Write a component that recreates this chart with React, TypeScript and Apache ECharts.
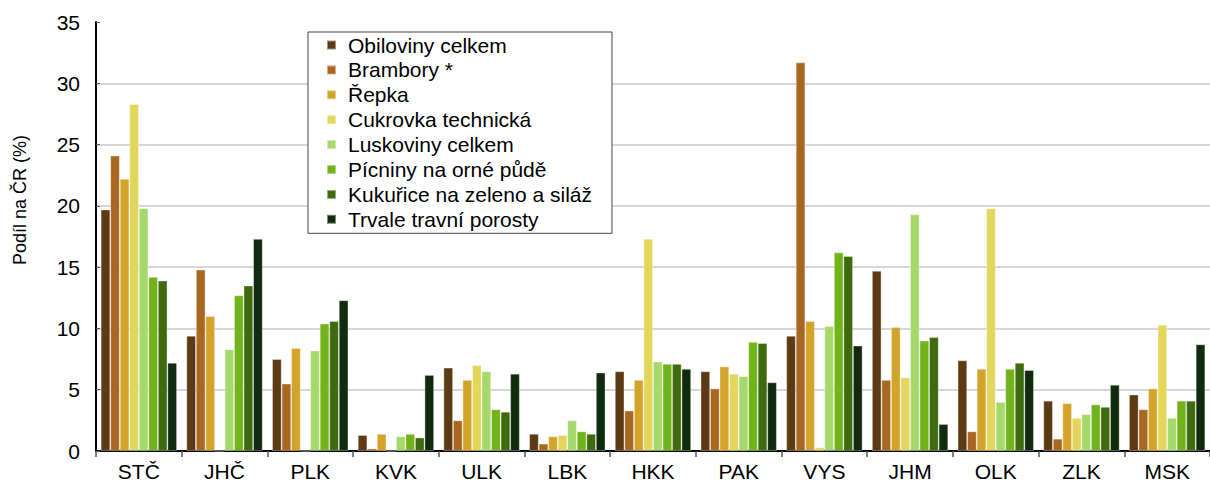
import React, { useEffect, useRef } from "react";
import * as echarts from "echarts";

const categories = ["STČ", "JHČ", "PLK", "KVK", "ULK", "LBK", "HKK", "PAK", "VYS", "JHM", "OLK", "ZLK", "MSK"];
const seriesNames = [
  "Obiloviny celkem",
  "Brambory *",
  "Řepka",
  "Cukrovka technická",
  "Luskoviny celkem",
  "Pícniny na orné půdě",
  "Kukuřice na zeleno a siláž",
  "Trvale travní porosty",
];
const obiloviny = [19.7, 9.4, 7.5, 1.3, 6.8, 1.4, 6.5, 6.5, 9.4, 14.7, 7.4, 4.1, 4.6];
const brambory = [24.1, 14.8, 5.5, 0.2, 2.5, 0.6, 3.3, 5.1, 31.7, 5.8, 1.6, 1.0, 3.4];
const repka = [22.2, 11.0, 8.4, 1.4, 5.8, 1.2, 5.8, 6.9, 10.6, 10.1, 6.7, 3.9, 5.1];
const cukrovka = [28.3, 0, 0, 0, 7.0, 1.3, 17.3, 6.3, 0.3, 6.0, 19.8, 2.7, 10.3];
const luskoviny = [19.8, 8.3, 8.2, 1.2, 6.5, 2.5, 7.3, 6.1, 10.2, 19.3, 4.0, 3.0, 2.7];
const picniny = [14.2, 12.7, 10.4, 1.4, 3.4, 1.6, 7.1, 8.9, 16.2, 9.0, 6.7, 3.8, 4.1];
const kukurice = [13.9, 13.5, 10.6, 1.1, 3.2, 1.4, 7.1, 8.8, 15.9, 9.3, 7.2, 3.6, 4.1];
const ttp = [7.2, 17.3, 12.3, 6.2, 6.3, 6.4, 6.7, 5.6, 8.6, 2.2, 6.6, 5.4, 8.7];
const colors = ["#5B3A14", "#A86822", "#D4A42A", "#E3D65C", "#A6D96B", "#72B31B", "#3D6B0D", "#102B0D"];
const yTicks = { min: 0, max: 35, interval: 5 };

const FONT = "'Liberation Sans', Arial, sans-serif";

export default function App() {
  const ref = useRef<HTMLDivElement>(null);
  useEffect(() => {
    if (!ref.current) return;
    const chart = echarts.init(ref.current, null, { renderer: "svg" });
    const allData = [obiloviny, brambory, repka, cukrovka, luskoviny, picniny, kukurice, ttp];
    chart.setOption({
      animation: false,
      backgroundColor: "#ffffff",
      textStyle: { fontFamily: FONT },
      grid: { left: 96, right: -13, top: 22, bottom: 34, containLabel: false },
      legend: {
        orient: "vertical",
        left: 308,
        top: 32,
        padding: [2, 20, 3, 18],
        itemWidth: 9,
        itemHeight: 9,
        itemGap: 2.9,
        icon: "rect",
        backgroundColor: "#ffffff",
        borderColor: "#444444",
        borderWidth: 1,
        borderRadius: 0,
        z: 10,
        textStyle: { fontSize: 21, color: "#000", fontFamily: FONT, lineHeight: 22, padding: [0, 0, 0, 7] },
        data: seriesNames,
      },
      graphic: [
        {
          type: "text",
          x: 20,
          y: 200,
          rotation: Math.PI / 2,
          style: {
            text: "Podíl na ČR (%)",
            fontSize: 18,
            fontFamily: FONT,
            fill: "#000",
            textAlign: "center",
            textVerticalAlign: "middle",
          },
        },
      ],
      xAxis: {
        type: "category",
        data: categories,
        axisLine: { show: true, lineStyle: { color: "#000", width: 2 } },
        axisTick: { show: true, inside: false, length: 6, lineStyle: { color: "#555", width: 1.5 } },
        axisLabel: { fontSize: 21, color: "#000", margin: 10, fontFamily: FONT },
        splitLine: { show: false },
      },
      yAxis: {
        type: "value",
        min: yTicks.min,
        max: yTicks.max,
        interval: yTicks.interval,
        axisLine: { show: true, lineStyle: { color: "#000", width: 2 } },
        axisTick: { show: true, inside: true, length: 4, lineStyle: { color: "#555" } },
        axisLabel: { fontSize: 21, color: "#000", margin: 16, fontFamily: FONT },
        splitLine: { show: true, showMaxLine: false, lineStyle: { color: "#c8c8c8", width: 1.5 } },
      },
      series: seriesNames.map((name, i) => ({
        name,
        type: "bar",
        data: allData[i],
        barGap: "0%",
        barCategoryGap: "11%",
        itemStyle: { color: colors[i], borderColor: "rgba(255,255,255,0.45)", borderWidth: 0.8 },
      })),
    });
    return () => chart.dispose();
  }, []);
  return <div ref={ref} style={{ position: "absolute", left: 0, top: 0, width: 1210, height: 485 }} />;
}
